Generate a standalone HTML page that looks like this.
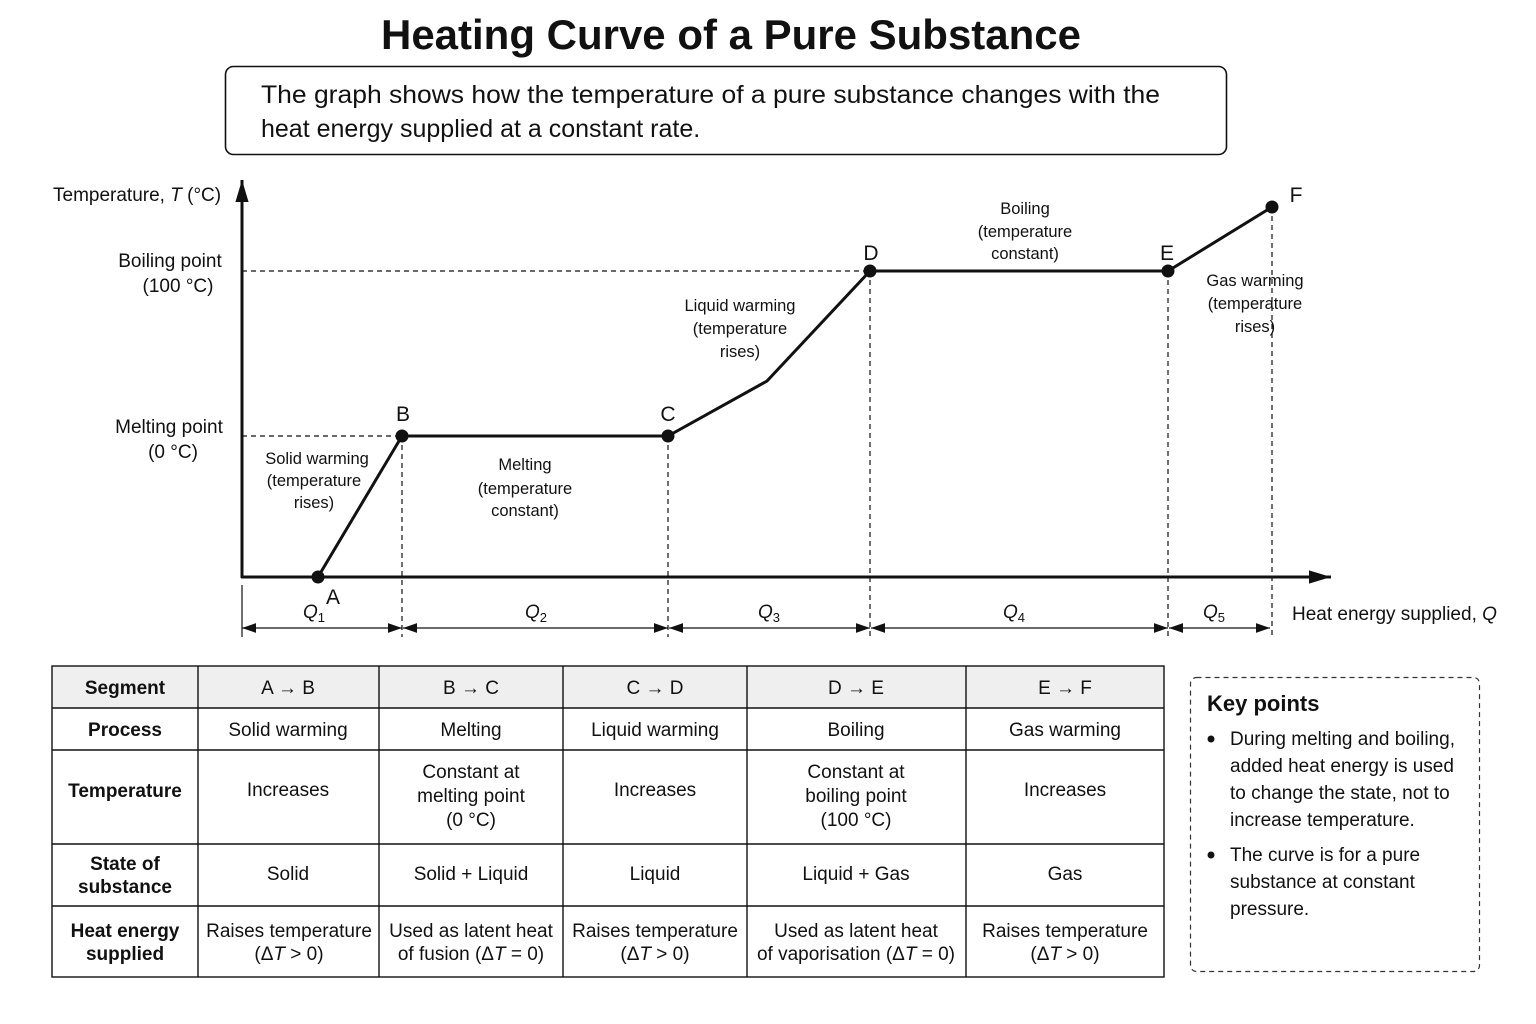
<!DOCTYPE html>
<html><head><meta charset="utf-8"><style>
body{margin:0;background:#fff}
svg{display:block;font-family:"Liberation Sans","DejaVu Sans",sans-serif}
</style></head><body>
<svg width="1536" height="1024" viewBox="0 0 1536 1024" xmlns="http://www.w3.org/2000/svg">
<defs>
<marker id="ah" viewBox="0 0 10 10" refX="10" refY="5" markerWidth="14" markerHeight="14" markerUnits="userSpaceOnUse" orient="auto-start-reverse"><path d="M0,1.5 L10,5 L0,8.5 z" fill="#111"/></marker>
<marker id="big" viewBox="0 0 10 10" refX="10" refY="5" markerWidth="22" markerHeight="22" markerUnits="userSpaceOnUse" orient="auto"><path d="M0,2 L10,5 L0,8 z" fill="#111"/></marker>
</defs>
<text x="731" y="49" text-anchor="middle" font-size="42" font-weight="bold" fill="#111" textLength="700" lengthAdjust="spacingAndGlyphs">Heating Curve of a Pure Substance</text>
<rect x="225.5" y="66.5" width="1001" height="88" rx="8" fill="#fff" stroke="#111" stroke-width="1.6"/>
<text x="261" y="103" font-size="25" fill="#111" textLength="899" lengthAdjust="spacingAndGlyphs">The graph shows how the temperature of a pure substance changes with the</text>
<text x="261" y="137" font-size="25" fill="#111">heat energy supplied at a constant rate.</text>

<g stroke="#111" stroke-width="1.2" stroke-dasharray="5,4" fill="none">
<line x1="242" y1="436" x2="402" y2="436"/>
<line x1="242" y1="271" x2="870" y2="271"/>
<line x1="402" y1="436" x2="402" y2="637"/>
<line x1="668" y1="436" x2="668" y2="637"/>
<line x1="870" y1="271" x2="870" y2="637"/>
<line x1="1168" y1="271" x2="1168" y2="637"/>
<line x1="1272" y1="207" x2="1272" y2="637"/>
</g>
<line x1="242" y1="585" x2="242" y2="637" stroke="#111" stroke-width="1.2"/>
<line x1="242" y1="578" x2="242" y2="180" stroke="#111" stroke-width="3" marker-end="url(#big)"/>
<line x1="241" y1="577" x2="1331" y2="577" stroke="#111" stroke-width="3" marker-end="url(#big)"/>
<polyline points="318,577 402,436 668,436 767,381 870,271 1168,271 1272,207" fill="none" stroke="#111" stroke-width="3"/>
<g fill="#111">
<circle cx="318" cy="577" r="6.5"/><circle cx="402" cy="436" r="6.5"/><circle cx="668" cy="436" r="6.5"/>
<circle cx="870" cy="271" r="6.5"/><circle cx="1168" cy="271" r="6.5"/><circle cx="1272" cy="207" r="6.5"/>
</g>
<g font-size="21" fill="#111" text-anchor="middle">
<text x="333" y="604">A</text><text x="403" y="421">B</text><text x="668" y="421">C</text>
<text x="871" y="260">D</text><text x="1167" y="260">E</text><text x="1296" y="202">F</text>
</g>
<g stroke="#111" stroke-width="1.3">
<line x1="242" y1="628" x2="402" y2="628" marker-start="url(#ah)" marker-end="url(#ah)"/>
<line x1="403" y1="628" x2="668" y2="628" marker-start="url(#ah)" marker-end="url(#ah)"/>
<line x1="669" y1="628" x2="870" y2="628" marker-start="url(#ah)" marker-end="url(#ah)"/>
<line x1="871" y1="628" x2="1168" y2="628" marker-start="url(#ah)" marker-end="url(#ah)"/>
<line x1="1169" y1="628" x2="1270" y2="628" marker-start="url(#ah)" marker-end="url(#ah)"/>
</g>
<g font-size="19" fill="#111" font-style="italic" text-anchor="middle">
<text x="314" y="618">Q<tspan font-size="13" font-style="normal" dy="4">1</tspan></text>
<text x="536" y="618">Q<tspan font-size="13" font-style="normal" dy="4">2</tspan></text>
<text x="769" y="618">Q<tspan font-size="13" font-style="normal" dy="4">3</tspan></text>
<text x="1014" y="618">Q<tspan font-size="13" font-style="normal" dy="4">4</tspan></text>
<text x="1214" y="618">Q<tspan font-size="13" font-style="normal" dy="4">5</tspan></text>
</g>
<text x="1292" y="620" font-size="19" fill="#111">Heat energy supplied, <tspan font-style="italic">Q</tspan></text>
<text x="53" y="201" font-size="19" fill="#111">Temperature, <tspan font-style="italic">T</tspan> (°C)</text>
<g font-size="19" fill="#111" text-anchor="middle">
<text x="170" y="267">Boiling point</text><text x="178" y="292">(100 °C)</text>
<text x="169" y="433">Melting point</text><text x="173" y="458">(0 °C)</text>
</g>
<g font-size="16.5" fill="#111" text-anchor="middle">
<text x="317" y="464">Solid warming</text><text x="314" y="486">(temperature</text><text x="314" y="508">rises)</text>
<text x="525" y="470">Melting</text><text x="525" y="494">(temperature</text><text x="525" y="516">constant)</text>
<text x="740" y="311">Liquid warming</text><text x="740" y="334">(temperature</text><text x="740" y="357">rises)</text>
<text x="1025" y="214">Boiling</text><text x="1025" y="237">(temperature</text><text x="1025" y="259">constant)</text>
<text x="1255" y="286">Gas warming</text><text x="1255" y="309">(temperature</text><text x="1255" y="332">rises)</text>
</g>

<rect x="52" y="666" width="1112" height="42" fill="#efefef"/>
<g stroke="#111" stroke-width="1.4" fill="none">
<rect x="52" y="666" width="1112" height="311"/>
<line x1="52" y1="708" x2="1164" y2="708"/><line x1="52" y1="750" x2="1164" y2="750"/>
<line x1="52" y1="844" x2="1164" y2="844"/><line x1="52" y1="906" x2="1164" y2="906"/>
<line x1="198" y1="666" x2="198" y2="977"/><line x1="379" y1="666" x2="379" y2="977"/>
<line x1="563" y1="666" x2="563" y2="977"/><line x1="747" y1="666" x2="747" y2="977"/>
<line x1="966" y1="666" x2="966" y2="977"/>
</g>
<g font-size="19" fill="#111" text-anchor="middle">
<g font-weight="bold">
<text x="125" y="694">Segment</text><text x="125" y="736">Process</text><text x="125" y="797">Temperature</text>
<text x="125" y="870">State of</text><text x="125" y="893">substance</text>
<text x="125" y="937">Heat energy</text><text x="125" y="960">supplied</text>
</g>
<text x="288" y="694">A → B</text><text x="471" y="694">B → C</text><text x="655" y="694">C → D</text><text x="856" y="694">D → E</text><text x="1065" y="694">E → F</text>
<text x="288" y="736">Solid warming</text><text x="471" y="736">Melting</text><text x="655" y="736">Liquid warming</text><text x="856" y="736">Boiling</text><text x="1065" y="736">Gas warming</text>
<text x="288" y="796">Increases</text>
<text x="471" y="778">Constant at</text><text x="471" y="802">melting point</text><text x="471" y="826">(0 °C)</text>
<text x="655" y="796">Increases</text>
<text x="856" y="778">Constant at</text><text x="856" y="802">boiling point</text><text x="856" y="826">(100 °C)</text>
<text x="1065" y="796">Increases</text>
<text x="288" y="880">Solid</text><text x="471" y="880">Solid + Liquid</text><text x="655" y="880">Liquid</text><text x="856" y="880">Liquid + Gas</text><text x="1065" y="880">Gas</text>
<text x="289" y="937">Raises temperature</text><text x="289" y="960">(Δ<tspan font-style="italic">T</tspan> &gt; 0)</text>
<text x="471" y="937">Used as latent heat</text><text x="471" y="960">of fusion (Δ<tspan font-style="italic">T</tspan> = 0)</text>
<text x="655" y="937">Raises temperature</text><text x="655" y="960">(Δ<tspan font-style="italic">T</tspan> &gt; 0)</text>
<text x="856" y="937">Used as latent heat</text><text x="856" y="960">of vaporisation (Δ<tspan font-style="italic">T</tspan> = 0)</text>
<text x="1065" y="937">Raises temperature</text><text x="1065" y="960">(Δ<tspan font-style="italic">T</tspan> &gt; 0)</text>
</g>

<rect x="1190.5" y="677.5" width="289" height="294" rx="6" fill="none" stroke="#333" stroke-width="1.2" stroke-dasharray="5,4"/>
<text x="1207" y="711" font-size="22" font-weight="bold" fill="#111">Key points</text>
<g font-size="19" fill="#111">
<circle cx="1211" cy="739" r="3.5"/>
<text x="1230" y="745">During melting and boiling,</text>
<text x="1230" y="772">added heat energy is used</text>
<text x="1230" y="799">to change the state, not to</text>
<text x="1230" y="826">increase temperature.</text>
<circle cx="1211" cy="855" r="3.5"/>
<text x="1230" y="861">The curve is for a pure</text>
<text x="1230" y="888">substance at constant</text>
<text x="1230" y="915">pressure.</text>
</g>
</svg>
</body></html>
